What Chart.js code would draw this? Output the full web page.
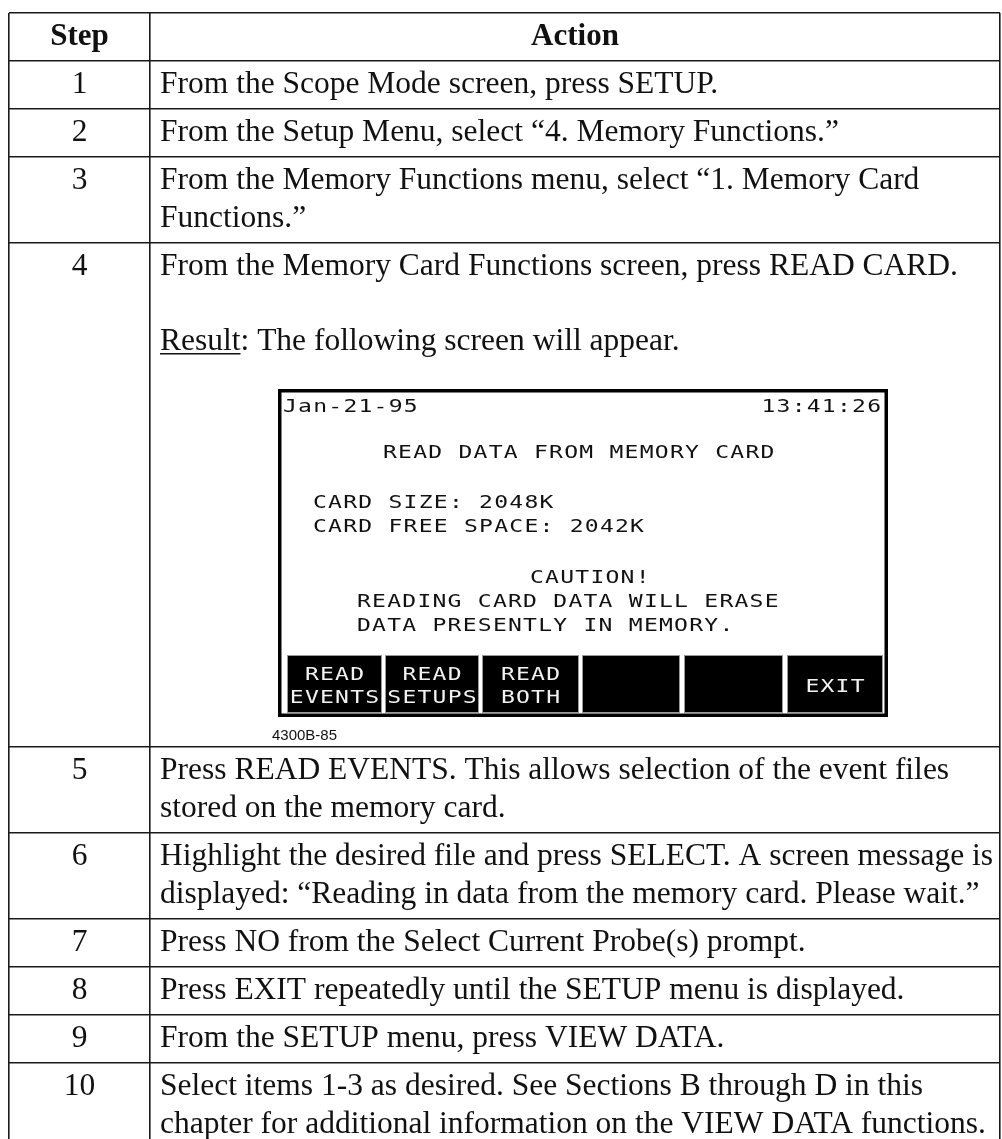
<!DOCTYPE html>
<html>
<head>
<meta charset="utf-8">
<script src="https://cdn.jsdelivr.net/npm/chart.js@4.4.1/dist/chart.umd.min.js"></script>
<style>
  html, body { margin: 0; padding: 0; background: #fff; }
  #wrap { width: 1002px; height: 1139px; position: relative; overflow: hidden; }
  canvas { display: block; }
</style>
</head>
<body>
<div id="wrap"><canvas id="c" width="1002" height="1139"></canvas></div>
<script>
// ---------------- DATA ----------------
const headerStep = 'Step';
const headerAction = 'Action';
const steps = ['1', '2', '3', '4', '5', '6', '7', '8', '9', '10'];
const actions = [
  ['From the Scope Mode screen, press SETUP.'],
  ['From the Setup Menu, select \u201c4. Memory Functions.\u201d'],
  ['From the Memory Functions menu, select \u201c1. Memory Card', 'Functions.\u201d'],
  ['From the Memory Card Functions screen, press READ CARD.', '', 'Result: The following screen will appear.'],
  ['Press READ EVENTS. This allows selection of the event files', 'stored on the memory card.'],
  ['Highlight the desired file and press SELECT. A screen message is', 'displayed: \u201cReading in data from the memory card. Please wait.\u201d'],
  ['Press NO from the Select Current Probe(s) prompt.'],
  ['Press EXIT repeatedly until the SETUP menu is displayed.'],
  ['From the SETUP menu, press VIEW DATA.'],
  ['Select items 1-3 as desired. See Sections B through D in this', 'chapter for additional information on the VIEW DATA functions.']
];
const underlinedWord = 'Result';
const figureRow = 3; // index of the row holding the screen figure
const screenDate = 'Jan-21-95';
const screenTime = '13:41:26';
const screenLines = [
  'READ DATA FROM MEMORY CARD',
  'CARD SIZE: 2048K',
  'CARD FREE SPACE: 2042K',
  'CAUTION!',
  'READING CARD DATA WILL ERASE',
  'DATA PRESENTLY IN MEMORY.'
];
const softKeys = [['READ', 'EVENTS'], ['READ', 'SETUPS'], ['READ', 'BOTH'], [], [], ['EXIT']];
const figureCaption = '4300B-85';

// ---------------- LAYOUT ----------------
const tableW = 991, tableH = 1126;
const stepColW = 141;
const rowBase = 48, lineStep = 38, firstBaseline = 32, textLine = 37.5;
const figureBlock = 380;
const colEdges = [0, stepColW, tableW];
const rowEdges = [0];
let acc = rowBase; // header
rowEdges.push(acc);
actions.forEach((lines, i) => {
  let h = rowBase + lineStep * (lines.length - 1);
  if (i === figureRow) h += figureBlock;
  acc += h;
  rowEdges.push(acc);
});

// screen layout (relative to screen box, in the scales' units)
const scr = { dx: 269, dy: 146, w: 610, h: 328 };
const screenLinePos = [[5, 23], [105, 69], [35, 119], [35, 143], [252, 194], [79, 218], [79, 242]];
const keyX = [[9, 104], [107, 201], [204, 301], [304, 402], [406, 505], [509, 605]];
const keyTop = 266, keyBottom = 324;
const monoPitch = 15.1, monoSize = 18, monoStretch = 1.28;

const serifFont = '"Liberation Serif", "Times New Roman", serif';
const monoFont = '"DejaVu Sans Mono", monospace';

const tablePlugin = {
  id: 'tableText',
  afterDraw(chart) {
    const ctx = chart.ctx;
    const xs = chart.scales.x, ys = chart.scales.y;
    const px = v => xs.getPixelForValue(v);
    const py = v => ys.getPixelForValue(v);
    ctx.save();
    ctx.fillStyle = '#111';
    ctx.textBaseline = 'alphabetic';
    // header
    ctx.font = 'bold 31px ' + serifFont;
    ctx.textAlign = 'center';
    ctx.fillText(headerStep, px(stepColW / 2), py(rowEdges[0] + firstBaseline));
    ctx.fillText(headerAction, px((stepColW + tableW) / 2), py(rowEdges[0] + firstBaseline));
    // rows
    ctx.font = '31.5px ' + serifFont;
    steps.forEach((s, i) => {
      const top = rowEdges[i + 1];
      ctx.textAlign = 'center';
      ctx.fillText(s, px(stepColW / 2), py(top + firstBaseline));
      ctx.textAlign = 'left';
      actions[i].forEach((line, k) => {
        const yb = py(top + firstBaseline + k * textLine);
        const xl = px(stepColW + 10);
        ctx.fillText(line, xl, yb);
        if (line.startsWith(underlinedWord)) {
          const w = ctx.measureText(underlinedWord).width;
          ctx.fillRect(xl, yb + 3, w, 1.5);
        }
      });
    });
    // screen figure
    const fTop = rowEdges[figureRow + 1] + scr.dy;
    const X = v => px(scr.dx + v), Y = v => py(fTop + v);
    ctx.lineWidth = 3.5;
    ctx.strokeStyle = '#000';
    ctx.strokeRect(X(0) + 1.75, Y(0) + 1.75, X(scr.w) - X(0) - 3.5, Y(scr.h) - Y(0) - 3.5);
    ctx.font = monoSize + 'px ' + monoFont;
    const hasLS = ('letterSpacing' in ctx);
    const adv = ctx.measureText('M').width;
    const gapUnscaled = monoPitch / monoStretch - adv;
    const gap = gapUnscaled * monoStretch;
    function drawMono(text, x, yb) {
      ctx.save();
      ctx.translate(x, yb);
      ctx.scale(monoStretch, 1);
      if (hasLS) {
        ctx.letterSpacing = gapUnscaled + 'px';
        ctx.fillText(text, 0, 0);
      } else {
        for (let i = 0; i < text.length; i++) ctx.fillText(text[i], i * monoPitch / monoStretch, 0);
      }
      ctx.restore();
    }
    const monoW = t => t.length * monoPitch - gap;
    ctx.textAlign = 'left';
    ctx.fillStyle = '#111';
    drawMono(screenDate, X(screenLinePos[0][0]), Y(screenLinePos[0][1]));
    drawMono(screenTime, X(603) - monoW(screenTime), Y(23));
    screenLines.forEach((t, i) => drawMono(t, X(screenLinePos[i + 1][0]), Y(screenLinePos[i + 1][1])));
    // soft keys
    softKeys.forEach((k, i) => {
      const x0 = X(keyX[i][0]), x1 = X(keyX[i][1]);
      ctx.fillStyle = '#000';
      ctx.fillRect(x0, Y(keyTop), x1 - x0, Y(keyBottom) - Y(keyTop));
      ctx.strokeStyle = '#9a9a9a';
      ctx.lineWidth = 1;
      ctx.strokeRect(x0 + 0.5, Y(keyTop) + 0.5, x1 - x0 - 1, Y(keyBottom) - Y(keyTop) - 1);
      ctx.fillStyle = '#f2f2f2';
      const cx = (x0 + x1) / 2;
      if (k.length === 2) {
        drawMono(k[0], cx - monoW(k[0]) / 2, Y(291));
        drawMono(k[1], cx - monoW(k[1]) / 2, Y(314));
      } else if (k.length === 1) {
        drawMono(k[0], cx - monoW(k[0]) / 2, Y(303));
      }
    });
    // caption
    ctx.fillStyle = '#111';
    ctx.font = '15px "Liberation Sans", Arial, sans-serif';
    ctx.fillText(figureCaption, X(-6), Y(351));
    ctx.restore();
  }
};

new Chart(document.getElementById('c'), {
  type: 'scatter',
  data: { datasets: [{ data: [], pointRadius: 0 }] },
  options: {
    responsive: false,
    animation: false,
    devicePixelRatio: 1,
    layout: { padding: { left: 9, top: 13, right: 2, bottom: 0 } },
    plugins: { legend: { display: false }, tooltip: { enabled: false } },
    scales: {
      x: {
        type: 'linear', min: 0, max: tableW,
        afterBuildTicks: s => { s.ticks = colEdges.map(v => ({ value: v })); },
        ticks: { display: false },
        grid: { color: '#1a1a1a', lineWidth: 1.6, drawTicks: false },
        border: { display: false }
      },
      y: {
        type: 'linear', min: 0, max: tableH, reverse: true,
        afterBuildTicks: s => { s.ticks = rowEdges.filter(v => v <= tableH).map(v => ({ value: v })); },
        ticks: { display: false },
        grid: { color: '#1a1a1a', lineWidth: 1.6, drawTicks: false },
        border: { display: false }
      }
    }
  },
  plugins: [tablePlugin]
});
</script>
</body>
</html>
